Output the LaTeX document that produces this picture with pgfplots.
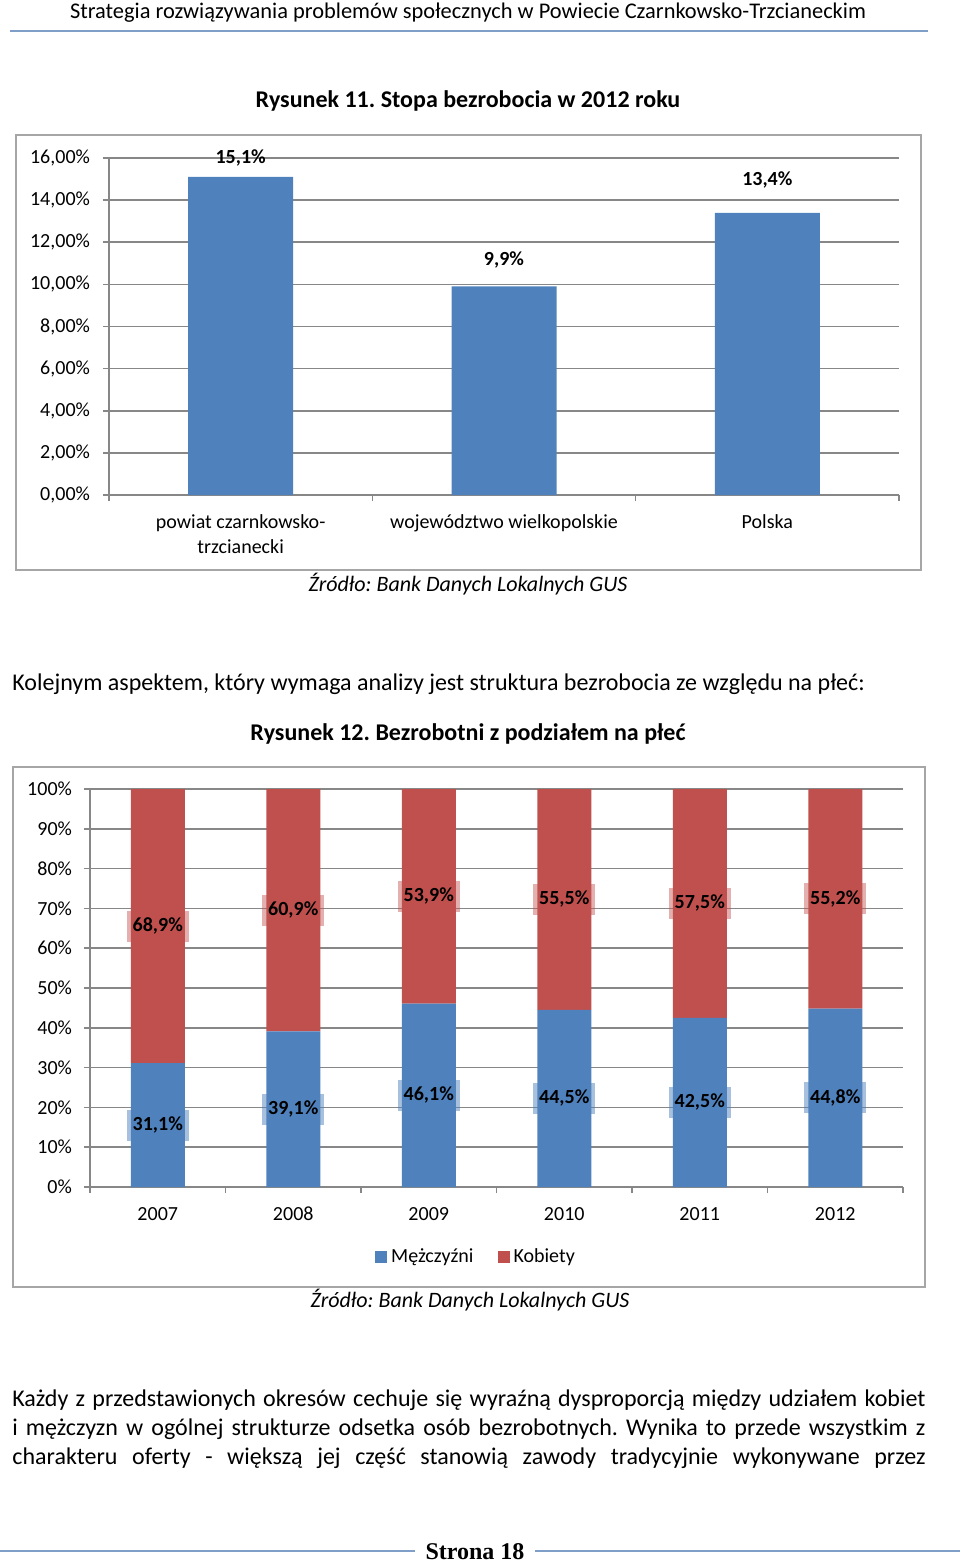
\documentclass[border=0pt]{standalone}
\usepackage{pgfplots}
\pgfplotsset{compat=1.18}
\usepackage{fontspec}
\setmainfont{Carlito}
\newfontfamily\footserif{Liberation Serif}
\definecolor{barblue}{HTML}{4F81BD}
\definecolor{barred}{HTML}{C0504D}
\definecolor{gridgray}{HTML}{878787}
\definecolor{framegray}{HTML}{A6A6A6}
\definecolor{hdrline}{HTML}{7F9FC8}
\newcommand{\fsz}[1]{\fontsize{#1}{#1}\selectfont}
\frenchspacing
\begin{document}
\frenchspacing
\begin{tikzpicture}[x=0.5pt,y=-0.5pt]
\path[use as bounding box] (0,0) rectangle (960,1562);
% header
\node[anchor=base, inner sep=0pt, font=\fsz{11.2}] at (468,19) {Strategia rozwiązywania problemów społecznych w Powiecie Czarnkowsko-Trzcianeckim};
\draw[hdrline, line width=0.75pt] (10,31) -- (928,31);
% figure 11
\node[anchor=base, inner sep=0pt, font=\bfseries\fsz{12}] at (468,108) {Rysunek 11. Stopa bezrobocia w 2012 roku};
\draw[framegray, line width=0.9pt] (16,135) rectangle (921,570);
\begin{axis}[
  at={(54.5pt,-247.5pt)}, anchor=south west,
  scale only axis, width=395pt, height=168.5pt,
  xmin=-0.5, xmax=2.5, ymin=0, ymax=16,
  axis x line*=bottom, axis y line*=left,
  axis line style={gridgray, line width=0.8pt},
  tick style={gridgray, line width=0.8pt},
  tick align=outside, major tick length=3pt,
  ymajorgrids, grid style={gridgray, line width=0.8pt},
  ytick={0,2,...,16},
  yticklabels={{0,00\%},{2,00\%},{4,00\%},{6,00\%},{8,00\%},{10,00\%},{12,00\%},{14,00\%},{16,00\%}},
  xtick={-0.5,0.5,1.5,2.5}, xticklabels={},
  extra x ticks={0,1,2},
  extra x tick labels={{powiat czarnkowsko-\\trzcianecki},{województwo wielkopolskie},{Polska}},
  extra x tick style={major tick length=0pt, xticklabel style={yshift=-6.5pt}},
  xticklabel style={align=center, font=\fontsize{10}{12.5}\selectfont},
  yticklabel style={font=\fsz{10}, xshift=-3pt},
  clip=false,
]
\addplot[ybar, bar width=52.5pt, fill=barblue, draw=none] coordinates {(0,15.1) (1,9.9) (2,13.4)};
\addplot[draw=none, nodes near coords, point meta=explicit symbolic,
  nodes near coords style={anchor=center, font=\bfseries\fsz{10}}]
  coordinates {(0,16.0)[15,1\%] (1,11.16)[9,9\%] (2,14.96)[13,4\%]};
\end{axis}
\node[anchor=base, inner sep=0pt, font=\itshape\fsz{11}] at (468,591) {Źródło: Bank Danych Lokalnych GUS};
% text
\node[anchor=base west, inner sep=0pt, font=\fsz{12}] at (12,690) {Kolejnym aspektem, który wymaga analizy jest struktura bezrobocia ze względu na płeć:};
\node[anchor=base, inner sep=0pt, font=\bfseries\fsz{12}] at (468,740) {Rysunek 12. Bezrobotni z podziałem na płeć};
% figure 12
\draw[framegray, line width=0.9pt] (13,767) rectangle (925,1287);
\begin{axis}[
  at={(45pt,-593.5pt)}, anchor=south west,
  scale only axis, width=406.5pt, height=199pt,
  xmin=-0.5, xmax=5.5, ymin=0, ymax=100,
  ybar stacked, bar width=27pt,
  axis x line*=bottom, axis y line*=left,
  axis line style={gridgray, line width=0.8pt},
  tick style={gridgray, line width=0.8pt},
  tick align=outside, major tick length=3pt,
  ymajorgrids, grid style={gridgray, line width=0.8pt},
  ytick={0,10,...,100},
  yticklabels={0\%,10\%,20\%,30\%,40\%,50\%,60\%,70\%,80\%,90\%,100\%},
  yticklabel style={font=\fsz{10}, xshift=-2.5pt},
  xtick={-0.5,0.5,...,5.5}, xticklabels={},
  extra x ticks={0,1,2,3,4,5},
  extra x tick labels={2007,2008,2009,2010,2011,2012},
  extra x tick style={major tick length=0pt, xticklabel style={yshift=-6.5pt}},
  xticklabel style={font=\fsz{10}},
  legend style={at={(0.476,-0.176)}, anchor=center, draw=none, fill=none,
    legend columns=2, font=\fsz{10},
    /tikz/every even column/.append style={column sep=10pt}},
  every axis plot post/.append style={legend image code/.code={\fill[##1] (0pt,-3pt) rectangle (6pt,3pt);}},
  clip=false,
]
\addplot[fill=barblue, draw=none] coordinates {(0,31.1) (1,39.1) (2,46.1) (3,44.5) (4,42.5) (5,44.8)};
\addplot[fill=barred, draw=none] coordinates {(0,68.9) (1,60.9) (2,53.9) (3,55.5) (4,57.5) (5,55.2)};
\legend{Mężczyźni,Kobiety}
\end{axis}
\begin{axis}[
  at={(45pt,-593.5pt)}, anchor=south west,
  scale only axis, width=406.5pt, height=199pt,
  xmin=-0.5, xmax=5.5, ymin=0, ymax=100, hide axis, clip=false,
]
\addplot[draw=none, nodes near coords, point meta=explicit symbolic,
  nodes near coords style={anchor=center, font=\bfseries\fsz{10}, fill=barblue, fill opacity=0.5, text opacity=1,
    text height=7pt, text depth=1.5pt, inner xsep=3pt, inner ysep=3.5pt}]
  coordinates {(0,15.55)[31,1\%] (1,19.55)[39,1\%] (2,23.05)[46,1\%] (3,22.25)[44,5\%] (4,21.25)[42,5\%] (5,22.4)[44,8\%]};
\addplot[draw=none, nodes near coords, point meta=explicit symbolic,
  nodes near coords style={anchor=center, font=\bfseries\fsz{10}, fill=barred, fill opacity=0.45, text opacity=1,
    text height=7pt, text depth=1.5pt, inner xsep=3pt, inner ysep=3.5pt}]
  coordinates {(0,65.55)[68,9\%] (1,69.55)[60,9\%] (2,73.05)[53,9\%] (3,72.25)[55,5\%] (4,71.25)[57,5\%] (5,72.4)[55,2\%]};
\end{axis}
\node[anchor=base, inner sep=0pt, font=\itshape\fsz{11}] at (470,1307) {Źródło: Bank Danych Lokalnych GUS};
% paragraph
\node[anchor=base west, inner sep=0pt, font=\fsz{12}] at (12,1406) {\makebox[456.5pt][s]{Każdy z przedstawionych okresów cechuje się wyraźną dysproporcją między udziałem kobiet}};
\node[anchor=base west, inner sep=0pt, font=\fsz{12}] at (12,1435) {\makebox[456.5pt][s]{i mężczyzn w ogólnej strukturze odsetka osób bezrobotnych. Wynika to przede wszystkim z}};
\node[anchor=base west, inner sep=0pt, font=\fsz{12}] at (12,1464) {\makebox[456.5pt][s]{charakteru oferty - większą jej część stanowią zawody tradycyjnie wykonywane przez}};
% footer
\draw[hdrline, line width=0.75pt] (0,1551) -- (415,1551);
\draw[hdrline, line width=0.75pt] (535,1551) -- (960,1551);
\node[anchor=base, inner sep=0pt, font=\footserif\bfseries\fsz{12}] at (475,1559) {Strona 18};
\end{tikzpicture}
\end{document}
